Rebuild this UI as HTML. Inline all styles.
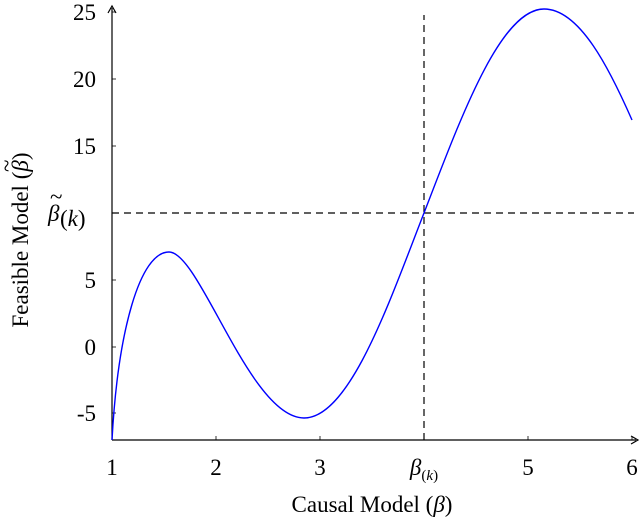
<!DOCTYPE html>
<html><head><style>
body{margin:0;background:#fff}
svg text{font-family:"Liberation Serif",serif;font-size:23px;fill:#000}
</style></head><body>
<svg width="640" height="522" viewBox="0 0 640 522" xmlns="http://www.w3.org/2000/svg">
<g stroke="#000" stroke-width="1.2" fill="none">
<line x1="112" y1="440" x2="112" y2="8"/>
<line x1="112" y1="440" x2="636" y2="440"/>
<path d="M108,13 L112,6 L116,13" />
<path d="M631,436 L638,440 L631,444" />
<g stroke-width="0.8">
<line x1="216" y1="440" x2="216" y2="436"/>
<line x1="320" y1="440" x2="320" y2="436"/>
<line x1="424" y1="440" x2="424" y2="436"/>
<line x1="528" y1="440" x2="528" y2="436"/>
<line x1="632" y1="440" x2="632" y2="436"/>
<line x1="112" y1="413" x2="116" y2="413"/>
<line x1="112" y1="347" x2="116" y2="347"/>
<line x1="112" y1="280" x2="116" y2="280"/>
<line x1="112" y1="146" x2="116" y2="146"/>
<line x1="112" y1="79" x2="116" y2="79"/>
<line x1="112" y1="12" x2="116" y2="12"/>
</g>
<line x1="424" y1="440" x2="424" y2="15" stroke-dasharray="7,5"/>
<line x1="112" y1="213" x2="634" y2="213" stroke-dasharray="7,5"/>
</g>
<path d="M112,440 C118,330 140,252 169,252 C200,252 250,418 304,418 C350,418 390,300 424,213 C460,120 500,9 544,9 C580,9 610,70 632,120" stroke="#0000ff" stroke-width="1.4" fill="none"/>
<g text-anchor="middle">
<text x="112" y="475">1</text>
<text x="216" y="475">2</text>
<text x="320" y="475">3</text>
<text x="424" y="475"><tspan font-style="italic">β</tspan><tspan font-size="15" dy="5">(<tspan font-style="italic">k</tspan>)</tspan></text>
<text x="528" y="475">5</text>
<text x="632" y="475">6</text>
<text x="372" y="512">Causal Model (<tspan font-style="italic">β</tspan>)</text>
</g>
<g text-anchor="end">
<text x="96" y="20">25</text>
<text x="96" y="87">20</text>
<text x="96" y="154">15</text>
<text x="96" y="288">5</text>
<text x="96" y="355">0</text>
<text x="96" y="421">-5</text>
</g>
<text x="48" y="221" font-style="italic">β</text>
<text x="50" y="204" font-size="20">~</text>
<text x="60" y="226" font-size="15">(<tspan font-style="italic">k</tspan>)</text>
<g transform="translate(28,240) rotate(-90)">
<text x="0" y="0" text-anchor="middle">Feasible Model (<tspan font-style="italic">β</tspan>)</text>
<text x="68" y="-14" font-size="20">~</text>
</g>
</svg>
</body></html>
